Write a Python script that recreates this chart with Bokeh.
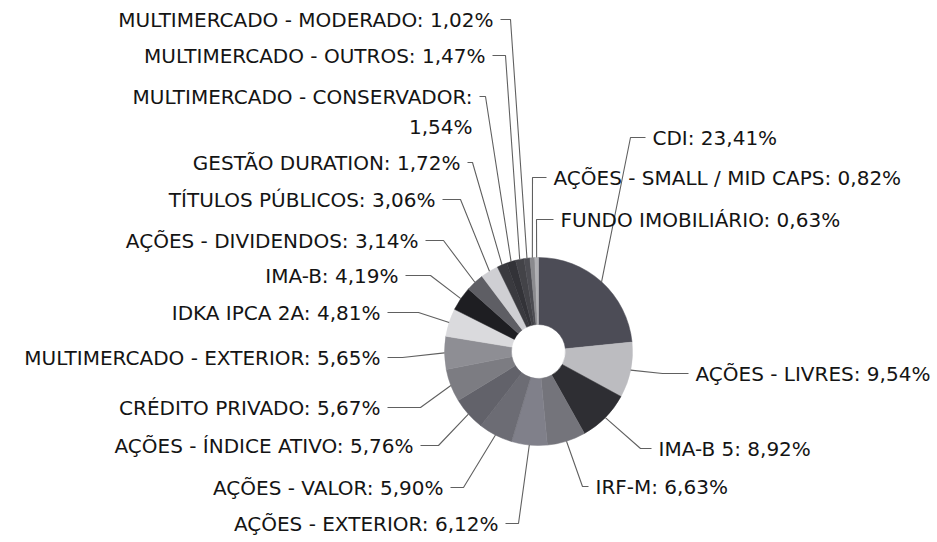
import math
from bokeh.plotting import figure
from bokeh.models import Range1d, ColumnDataSource
from bokeh.core.properties import value
from bokeh.embed import file_html
from bokeh.resources import INLINE

# ---- data (clockwise from 12 o'clock) ----
categories = [
    "CDI", "AÇÕES - LIVRES", "IMA-B 5", "IRF-M", "AÇÕES - EXTERIOR",
    "AÇÕES - VALOR", "AÇÕES - ÍNDICE ATIVO", "CRÉDITO PRIVADO",
    "MULTIMERCADO - EXTERIOR", "IDKA IPCA 2A", "IMA-B", "AÇÕES - DIVIDENDOS",
    "TÍTULOS PÚBLICOS", "GESTÃO DURATION", "MULTIMERCADO - CONSERVADOR",
    "MULTIMERCADO - OUTROS", "MULTIMERCADO - MODERADO",
    "AÇÕES - SMALL / MID CAPS", "FUNDO IMOBILIÁRIO",
]
values = [23.41, 9.54, 8.92, 6.63, 6.12, 5.90, 5.76, 5.67, 5.65, 4.81,
          4.19, 3.14, 3.06, 1.72, 1.54, 1.47, 1.02, 0.82, 0.63]

# ---- styling / layout (screen pixel positions of the labels) ----
colors = ["#4c4c56", "#bcbcc0", "#2e2e33", "#74747b", "#80808a",
          "#6c6c74", "#62626a", "#7c7c82", "#8e8e94", "#dadadd",
          "#1e1e22", "#5e5e64", "#cfcfd3", "#3a3a3f", "#333338",
          "#434348", "#4c4c52", "#8a8a8e", "#b0b0b4"]
# side, text x (edge nearest pie), text y (centre), elbow x
label_layout = [
    ("R", 652, 137, 630),   # CDI
    ("R", 695, 373, 662),   # LIVRES
    ("R", 658, 448, 640),   # IMA-B 5
    ("R", 595, 486, 582),   # IRF-M
    ("L", 498, 523, 518),   # AÇÕES EXTERIOR
    ("L", 443, 487, 463),   # VALOR
    ("L", 413, 445, 438),   # ÍNDICE ATIVO
    ("L", 380, 407, 420),   # CRÉDITO
    ("L", 380, 357, 402),   # MULTI EXTERIOR
    ("L", 380, 312, 418),   # IDKA
    ("L", 398, 275, 430),   # IMA-B
    ("L", 418, 240, 443),   # DIVIDENDOS
    ("L", 435, 199, 460),   # TÍTULOS
    ("L", 460, 162, 472),   # GESTÃO
    ("L", 472, 111, 485),   # CONSERVADOR (two-line block centre)
    ("L", 485, 55, 505),    # OUTROS
    ("L", 493, 19, 510),    # MODERADO
    ("R", 553, 177, 532),   # SMALL
    ("R", 560, 219, 536),   # FUNDO
]

W, H = 936, 541
CX, CY = 538, 351      # pie centre in screen px
R_OUT, R_IN = 94, 27


def dx(X):
    return X


def dy(Y):
    return H - Y


p = figure(width=W, height=H, output_backend="svg", toolbar_location=None,
           x_range=Range1d(0, W), y_range=Range1d(0, H), min_border=0)
p.axis.visible = False
p.grid.visible = False
p.outline_line_color = None
p.background_fill_color = "white"
p.border_fill_color = "white"

total = sum(values)
starts, ends, mids = [], [], []
cum = 0.0
for v in values:
    a0 = math.pi / 2 - 2 * math.pi * cum / total
    cum += v
    a1 = math.pi / 2 - 2 * math.pi * cum / total
    starts.append(a0)
    ends.append(a1)
    mids.append((a0 + a1) / 2)

src = ColumnDataSource(dict(start=starts, end=ends, color=colors,
                            x=[dx(CX)] * len(values), y=[dy(CY)] * len(values)))
p.annular_wedge(x="x", y="y", inner_radius=R_IN, outer_radius=R_OUT,
                start_angle="start", end_angle="end", direction="clock",
                fill_color="color", line_color="color", line_width=0.5,
                source=src)

# leader lines + labels
lx, ly = [], []
L_txt = dict(x=[], y=[], t=[])
R_txt = dict(x=[], y=[], t=[])
for cat, v, m, (side, tx, ty, ex) in zip(categories, values, mids, label_layout):
    pct = f"{v:.2f}".replace(".", ",") + "%"
    px = dx(CX) + R_OUT * math.cos(m)
    py = dy(CY) + R_OUT * math.sin(m)
    if side == "L":
        sx = tx + 7
        yline = ty
        if cat == "MULTIMERCADO - CONSERVADOR":
            text = cat + ":\n" + pct
            yline = ty - 15
        else:
            text = cat + ": " + pct
        lx.append([dx(sx), dx(ex), px])
        ly.append([dy(yline), dy(yline), py])
        tgt = L_txt
    else:
        sx = tx - 7
        text = cat + ": " + pct
        lx.append([dx(sx), dx(ex), px])
        ly.append([dy(ty), dy(ty), py])
        tgt = R_txt
    tgt["x"].append(dx(tx))
    tgt["y"].append(dy(ty))
    tgt["t"].append(text)

p.multi_line(xs=lx, ys=ly, line_color="#606060", line_width=1.1)

font = value("DejaVu Sans")
p.text(x="x", y="y", text="t", source=ColumnDataSource(L_txt),
       text_align="right", text_baseline="middle", text_font=font,
       text_font_size="20px", text_color="#141414", text_line_height=1.25)
p.text(x="x", y="y", text="t", source=ColumnDataSource(R_txt),
       text_align="left", text_baseline="middle", text_font=font,
       text_font_size="20px", text_color="#141414")

open("out.html", "w").write(file_html(p, INLINE))
